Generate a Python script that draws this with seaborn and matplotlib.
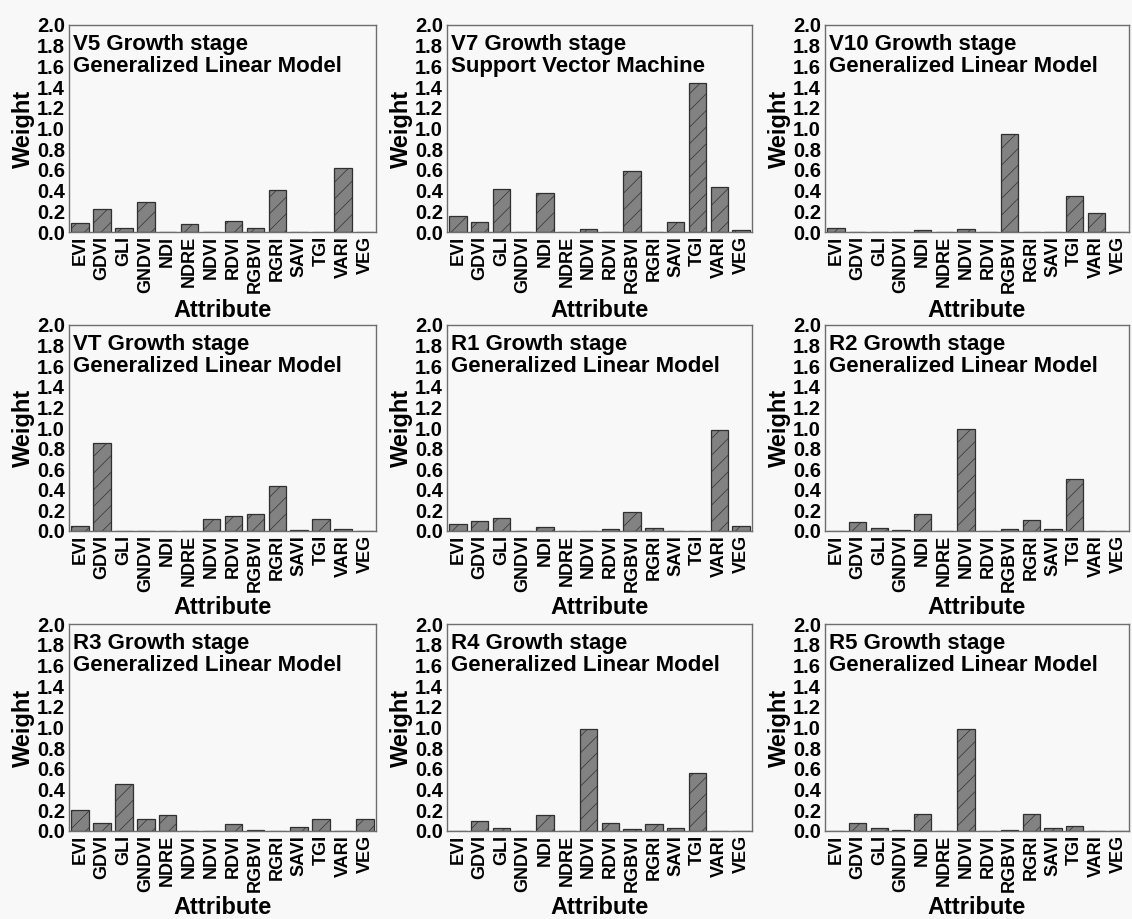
import matplotlib
matplotlib.use("Agg")
import matplotlib.pyplot as plt
import pandas as pd
import seaborn as sns

# Vegetation-index attributes (the R3 model lists a slightly different set)
attributes = ["EVI", "GDVI", "GLI", "GNDVI", "NDI", "NDRE", "NDVI",
              "RDVI", "RGBVI", "RGRI", "SAVI", "TGI", "VARI", "VEG"]
attributes_r3 = ["EVI", "GDVI", "GLI", "GNDVI", "NDRE", "NDVI", "NDVI",
                 "RDVI", "RGBVI", "RGRI", "SAVI", "TGI", "VARI", "VEG"]

stages = ["V5", "V7", "V10", "VT", "R1", "R2", "R3", "R4", "R5"]
models = ["Generalized Linear Model", "Support Vector Machine",
          "Generalized Linear Model", "Generalized Linear Model",
          "Generalized Linear Model", "Generalized Linear Model",
          "Generalized Linear Model", "Generalized Linear Model",
          "Generalized Linear Model"]

# Attribute weights per growth stage
w_v5 = [0.087, 0.222, 0.042, 0.293, 0.0, 0.077, 0.0, 0.106, 0.039, 0.403, 0.0, 0.0, 0.622, 0.0]
w_v7 = [0.158, 0.100, 0.412, 0.0, 0.380, 0.0, 0.029, 0.0, 0.593, 0.0, 0.100, 1.443, 0.438, 0.023]
w_v10 = [0.039, 0.0, 0.0, 0.0, 0.023, 0.0, 0.029, 0.0, 0.944, 0.0, 0.0, 0.351, 0.187, 0.0]
w_vt = [0.049, 0.853, 0.0, 0.0, 0.0, 0.0, 0.120, 0.146, 0.162, 0.438, 0.013, 0.117, 0.016, 0.0]
w_r1 = [0.065, 0.097, 0.130, 0.0, 0.036, 0.0, 0.0, 0.016, 0.185, 0.029, 0.0, 0.0, 0.979, 0.045]
w_r2 = [0.0, 0.084, 0.026, 0.006, 0.162, 0.0, 0.989, 0.0, 0.016, 0.104, 0.016, 0.502, 0.0, 0.0]
w_r3 = [0.200, 0.074, 0.458, 0.116, 0.158, 0.0, 0.0, 0.065, 0.006, 0.0, 0.039, 0.119, 0.0, 0.116]
w_r4 = [0.0, 0.097, 0.026, 0.0, 0.152, 0.0, 0.990, 0.077, 0.016, 0.071, 0.026, 0.565, 0.0, 0.0]
w_r5 = [0.0, 0.081, 0.032, 0.006, 0.161, 0.0, 0.984, 0.0, 0.013, 0.165, 0.026, 0.052, 0.0, 0.0]

weights = [w_v5, w_v7, w_v10, w_vt, w_r1, w_r2, w_r3, w_r4, w_r5]
labels = [attributes] * 6 + [attributes_r3] + [attributes] * 2

yticks = [0.0, 0.2, 0.4, 0.6, 0.8, 1.0, 1.2, 1.4, 1.6, 1.8, 2.0]

sns.set_theme(style="white")
plt.rcParams["font.family"] = ["Liberation Sans", "DejaVu Sans"]
plt.rcParams["font.weight"] = "bold"
plt.rcParams["hatch.linewidth"] = 0.5
for key in ("text.color", "axes.labelcolor", "xtick.color", "ytick.color"):
    plt.rcParams[key] = "black"

BG = "#f8f8f8"
W, H = 1132, 919
fig = plt.figure(figsize=(W / 100, H / 100), dpi=100, facecolor=BG)

lefts = [69, 447, 825]
widths = [307, 305, 304]
tops = [25, 325, 624]
heights = [207, 206, 207]
xlabel_gap = [67, 65, 65]   # pixels from the axes bottom to the top of "Attribute"

for i, (stage, model, vals, labs) in enumerate(zip(stages, models, weights, labels)):
    r, c = divmod(i, 3)
    ax = fig.add_axes([lefts[c] / W, 1 - (tops[r] + heights[r]) / H,
                       widths[c] / W, heights[r] / H], facecolor=BG)
    df = pd.DataFrame({"pos": list(range(len(vals))), "weight": vals})
    sns.barplot(data=df, x="pos", y="weight", ax=ax, color="#828282",
                saturation=1, width=0.8, edgecolor="#303030", linewidth=0.9,
                hatch="//")
    ax.set_xlim(-0.5, len(vals) - 0.5)
    ax.set_ylim(0, 2.0)
    ax.set_yticks(yticks)
    ax.set_yticklabels([f"{t:.1f}" for t in yticks], fontsize=14.5, fontweight="bold")
    ax.set_xticks(range(len(labs)))
    ax.set_xticklabels(labs, rotation=90, fontsize=13, fontweight="bold")
    ax.tick_params(axis="x", length=0, pad=3)
    ax.tick_params(axis="y", length=0, pad=3)
    ax.set_xlabel("Attribute", fontsize=17, fontweight="bold")
    ax.xaxis.set_label_coords(0.5, -xlabel_gap[r] / heights[r])
    ax.set_ylabel("Weight", fontsize=17, fontweight="bold", labelpad=1)
    for sp in ax.spines.values():
        sp.set_color("#6e6e6e")
        sp.set_linewidth(1.0)
        sp.set_visible(True)
    ax.text(0.012, 0.955, f"{stage} Growth stage\n{model}", transform=ax.transAxes,
            ha="left", va="top", fontsize=16, fontweight="bold", linespacing=1.05,
            color="black")

fig.savefig("out.png", dpi=100, facecolor=BG)
